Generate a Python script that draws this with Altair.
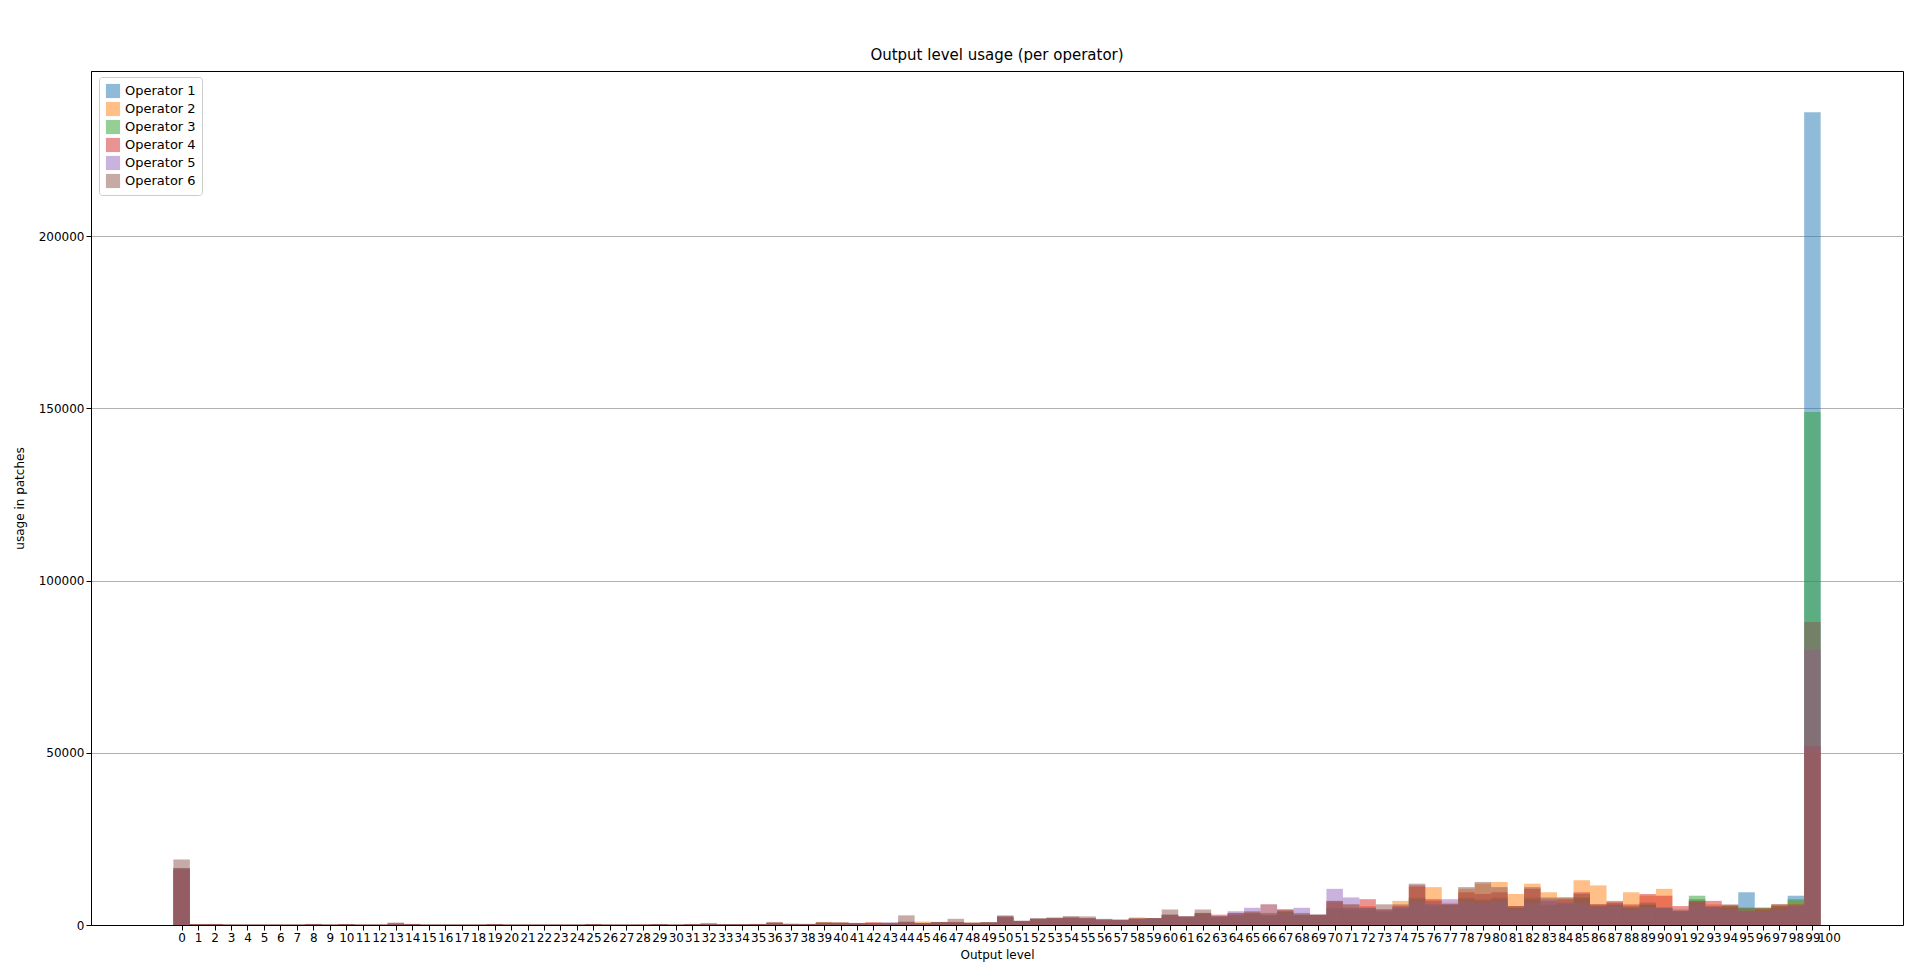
import pandas as pd
import altair as alt

operators = ['Operator 1', 'Operator 2', 'Operator 3', 'Operator 4', 'Operator 5', 'Operator 6']
colors = ['#1f77b4', '#ff7f0e', '#2ca02c', '#d62728', '#9467bd', '#8c564b']

# usage per output level 0..99
op1 = [16500, 200, 300, 100, 100, 100, 100, 100, 300, 100, 200, 100, 100, 400, 300, 100, 100, 100, 100, 200,
       100, 100, 100, 100, 100, 200, 100, 100, 100, 200, 100, 200, 300, 200, 200, 300, 500, 300, 300, 600,
       600, 500, 500, 500, 800, 500, 800, 800, 600, 700, 2500, 1200, 1800, 2000, 2200, 2000, 1500, 1500, 1800, 2000,
       3000, 2500, 3500, 2500, 3000, 3500, 3000, 4000, 3000, 3000, 5000, 5000, 5000, 4000, 5000, 8000, 6000, 6000, 8000, 7500,
       8000, 5000, 8000, 6000, 6500, 8000, 5500, 6000, 5000, 6000, 5000, 4000, 7500, 5000, 5000, 9500, 4500, 5000, 8500, 236000]
op2 = [16000, 300, 200, 100, 100, 100, 100, 100, 200, 100, 300, 100, 100, 500, 200, 100, 100, 100, 100, 300,
       100, 100, 100, 100, 100, 300, 100, 100, 200, 100, 100, 300, 200, 200, 200, 300, 700, 400, 300, 800,
       700, 600, 700, 600, 900, 1000, 700, 900, 700, 800, 2000, 1000, 1500, 1800, 2000, 1800, 1400, 1300, 2200, 1800,
       2800, 2200, 3000, 2500, 2800, 3800, 6000, 3500, 3000, 2800, 6500, 6000, 5500, 4500, 7000, 11000, 11000, 6500, 10500, 12000,
       12500, 9000, 12000, 9500, 8000, 13000, 11500, 6500, 9500, 8500, 10500, 4000, 7000, 6000, 5500, 4500, 5000, 5500, 7000, 50000]
op3 = [16000, 200, 200, 100, 100, 100, 100, 100, 200, 100, 200, 100, 100, 300, 200, 100, 100, 100, 100, 200,
       100, 100, 100, 100, 100, 200, 100, 100, 100, 200, 100, 200, 200, 200, 200, 200, 500, 300, 300, 500,
       500, 400, 500, 400, 700, 500, 700, 700, 500, 700, 2200, 1100, 1600, 1800, 2000, 1800, 1300, 1400, 1700, 1900,
       2800, 2300, 3200, 2300, 2800, 3200, 2800, 3800, 2800, 2800, 4800, 4500, 4500, 3800, 4800, 7500, 5500, 5800, 7500, 7000,
       7500, 5000, 7500, 5800, 6200, 7800, 5300, 5800, 5000, 5800, 5000, 4000, 8500, 5200, 5800, 5000, 5000, 5500, 7500, 149000]
op4 = [16500, 200, 300, 100, 100, 100, 100, 100, 300, 100, 200, 100, 100, 400, 300, 100, 100, 100, 100, 200,
       100, 100, 100, 100, 100, 200, 100, 100, 100, 200, 100, 200, 300, 200, 200, 300, 500, 300, 300, 600,
       600, 500, 800, 500, 800, 500, 800, 800, 600, 700, 2500, 1200, 1800, 2000, 2200, 2000, 1500, 1500, 1800, 2000,
       3000, 2500, 3500, 3000, 3500, 3500, 3000, 4500, 3000, 3000, 7000, 5000, 7500, 4500, 5500, 11500, 7500, 6000, 9500, 9000,
       9500, 5500, 10500, 7000, 7500, 9500, 6000, 7000, 6000, 9000, 8500, 5500, 7000, 7000, 5500, 4000, 4500, 6000, 6000, 52000]
op5 = [16500, 200, 200, 100, 100, 100, 100, 100, 200, 100, 200, 100, 100, 300, 200, 100, 100, 100, 100, 200,
       100, 100, 100, 100, 100, 200, 100, 100, 100, 200, 100, 200, 200, 200, 200, 200, 500, 300, 300, 500,
       500, 500, 500, 800, 1000, 500, 700, 700, 600, 700, 2000, 1100, 1600, 1800, 2000, 1800, 1800, 1400, 1700, 1900,
       2800, 2300, 3000, 2500, 4000, 5000, 6000, 3500, 5000, 2800, 10500, 8000, 5000, 4500, 5000, 7000, 6000, 7500, 7000, 6500,
       7000, 4500, 6500, 7500, 6500, 6500, 5000, 5500, 4500, 5000, 5000, 4000, 6000, 5000, 4500, 4000, 4000, 4500, 5500, 80000]
op6 = [19000, 300, 300, 100, 100, 100, 100, 100, 300, 100, 300, 100, 100, 700, 300, 100, 100, 100, 100, 300,
       100, 100, 100, 100, 100, 300, 100, 100, 100, 300, 100, 300, 600, 200, 200, 300, 900, 300, 300, 900,
       800, 600, 500, 600, 2800, 600, 900, 1800, 700, 800, 2800, 1200, 2000, 2200, 2600, 2500, 1700, 1500, 2000, 2000,
       4500, 2500, 4500, 2500, 3500, 4000, 3500, 4500, 3500, 3000, 7000, 6000, 5000, 6000, 6000, 12000, 7000, 6000, 11000, 12500,
       11000, 5500, 11000, 8000, 8000, 9000, 6000, 6500, 5500, 6500, 5000, 4500, 6500, 5500, 6000, 5000, 5000, 6000, 5500, 88000]

series = [op1, op2, op3, op4, op5, op6]
rows = []
for name, vals in zip(operators, series):
    for level, v in enumerate(vals):
        rows.append({'operator': name, 'level': level, 'usage': v})
df = pd.DataFrame(rows)

font = 'DejaVu Sans'

chart = alt.Chart(df).transform_calculate(
    x0='datum.level - 0.5', x1='datum.level + 0.5'
).mark_rect(opacity=0.5).encode(
    alt.X('x0:Q', title='Output level', scale=alt.Scale(domain=[-5.5, 104.5], nice=False, zero=False),
          axis=alt.Axis(values=list(range(101)), labelAngle=0, labelOverlap=False, grid=False,
                        labelFontSize=12, titleFontSize=12, titleFontWeight='normal', tickColor='black',
                        domainColor='black', labelColor='black', labelFlush=False, titlePadding=6)),
    alt.X2('x1:Q'),
    alt.Y('usage:Q', title='usage in patches', scale=alt.Scale(domain=[0, 248000], nice=False),
          axis=alt.Axis(values=[0, 50000, 100000, 150000, 200000], format='d', grid=True, gridColor='#b0b0b0',
                        labelFontSize=12, titleFontSize=12, titleFontWeight='normal', tickColor='black',
                        domainColor='black', labelColor='black', titlePadding=12)),
    alt.Color('operator:N', scale=alt.Scale(domain=operators, range=colors),
              legend=alt.Legend(title=None, orient='none', legendX=8, legendY=6, symbolType='square',
                                symbolSize=200, symbolOpacity=0.5, labelFontSize=13, fillColor='white',
                                strokeColor='#cccccc', padding=6, cornerRadius=3)),
    alt.Y2(datum=0),
).properties(
    width=1812, height=854,
    padding={'top': 40, 'left': 5, 'right': 5, 'bottom': 5},
    title=alt.Title('Output level usage (per operator)', fontSize=15, fontWeight='normal', font=font, offset=8)
).configure(font=font).configure_view(stroke='black')

chart.save("out.html", embed_options={"renderer": "svg", "actions": False})
